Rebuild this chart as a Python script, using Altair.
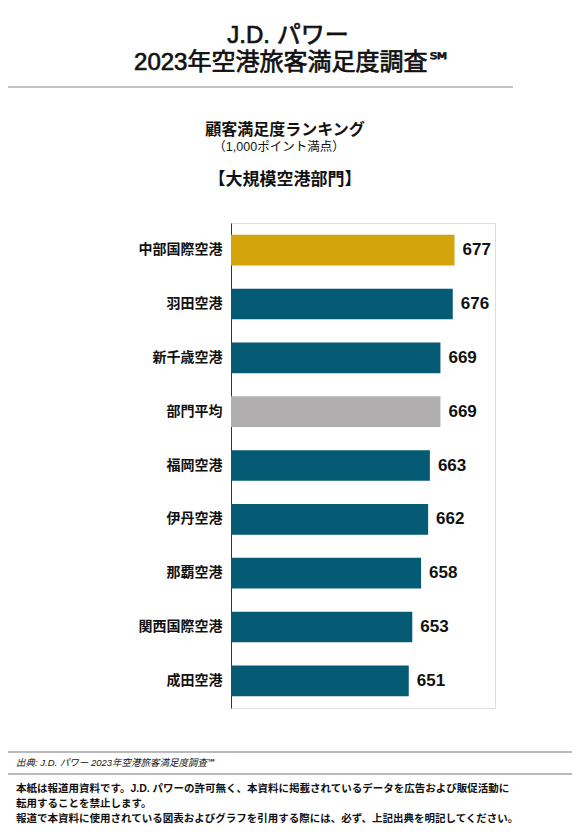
import altair as alt
import pandas as pd

airports = ["中部国際空港", "羽田空港", "新千歳空港", "部門平均", "福岡空港",
            "伊丹空港", "那覇空港", "関西国際空港", "成田空港"]
scores = [677, 676, 669, 669, 663, 662, 658, 653, 651]
groups = ["top", "other", "other", "avg", "other", "other", "other", "other", "other"]

group_domain = ["top", "other", "avg"]
group_colors = ["#D4A50A", "#055A74", "#B0AEAF"]

title_line1 = "J.D. パワー"
title_line2 = "2023年空港旅客満足度調査℠"
subtitle1 = "顧客満足度ランキング"
subtitle2 = "（1,000ポイント満点）"
subtitle3 = "【大規模空港部門】"
source_text = "出典: J.D. パワー  2023年空港旅客満足度調査℠"
note_lines = [
    "本紙は報道用資料です。J.D. パワーの許可無く、本資料に掲載されているデータを広告および販促活動に",
    "転用することを禁止します。",
    "報道で本資料に使用されている図表およびグラフを引用する際には、必ず、上記出典を明記してください。",
]

FONT = "Liberation Sans, Noto Sans CJK JP, DejaVu Sans"

df = pd.DataFrame({"airport": airports, "score": scores, "group": groups})

# plot origin on page is (231, 223)
OX, OY = 231, 223

x_enc = alt.X("score:Q", scale=alt.Scale(domain=[550, 700], zero=False), axis=None)
y_enc = alt.Y("airport:N", sort=airports,
              scale=alt.Scale(paddingInner=0.43, paddingOuter=0.22),
              axis=alt.Axis(title=None, ticks=False, labelPadding=9,
                            labelFont=FONT, labelFontSize=14, labelFontWeight="bold",
                            labelColor="#111111", domainColor="#333333", domainWidth=1))

base = alt.Chart(df)
bars = base.mark_bar(clip=True).encode(
    x=x_enc, x2=alt.datum(550), y=y_enc,
    color=alt.Color("group:N", scale=alt.Scale(domain=group_domain, range=group_colors), legend=None),
)
vals = base.mark_text(align="left", baseline="middle", dx=8, font=FONT,
                      fontSize=17, fontWeight="bold", color="#111111").encode(
    x=x_enc, y=alt.Y("airport:N", sort=airports), text=alt.Text("score:Q"))


def txt(s, px, py, size, weight="normal", align="center", style="normal", stroke_w=0):
    d = pd.DataFrame({"t": [s]})
    kw = {}
    if stroke_w:
        kw = {"stroke": "#111111", "strokeWidth": stroke_w}
    return alt.Chart(d).mark_text(align=align, baseline="middle", font=FONT, fontSize=size,
                                  fontWeight=weight, fontStyle=style, color="#111111", **kw).encode(
        x=alt.value(px - OX), y=alt.value(py - OY), text="t:N")


def hline(x1, x2, py, color="#777777"):
    d = pd.DataFrame({"k": [0]})
    return alt.Chart(d).mark_rule(color=color, strokeWidth=1.2).encode(
        x=alt.value(x1 - OX), x2=alt.value(x2 - OX), y=alt.value(py - OY))


layers = [
    bars, vals,
    txt(title_line1, 288, 36, 24, stroke_w=0.7),
    txt(title_line2, 293, 63, 24, stroke_w=0.7),
    hline(8, 513, 87, "#8a8a8a"),
    txt(subtitle1, 285, 130, 16, "bold"),
    txt(subtitle2, 279, 147, 12.5),
    txt(subtitle3, 285, 180, 17, "bold"),
    hline(8, 575, 752, "#777777"),
    txt(source_text, 16, 763, 9.5, align="left", style="italic"),
    hline(8, 575, 774, "#777777"),
    txt(note_lines[0], 16, 789, 10.5, "bold", align="left"),
    txt(note_lines[1], 16, 804, 10.5, "bold", align="left"),
    txt(note_lines[2], 16, 819, 10.5, "bold", align="left"),
]

chart = alt.layer(*layers).properties(
    width=264, height=485,
    autosize=alt.AutoSizeParams(type="none"),
    padding={"left": 223, "top": 215, "right": 77, "bottom": 118},
).configure_view(strokeWidth=0, stroke="transparent").configure(background="white")

chart.save("out.html", embed_options={"renderer": "svg", "actions": False})
